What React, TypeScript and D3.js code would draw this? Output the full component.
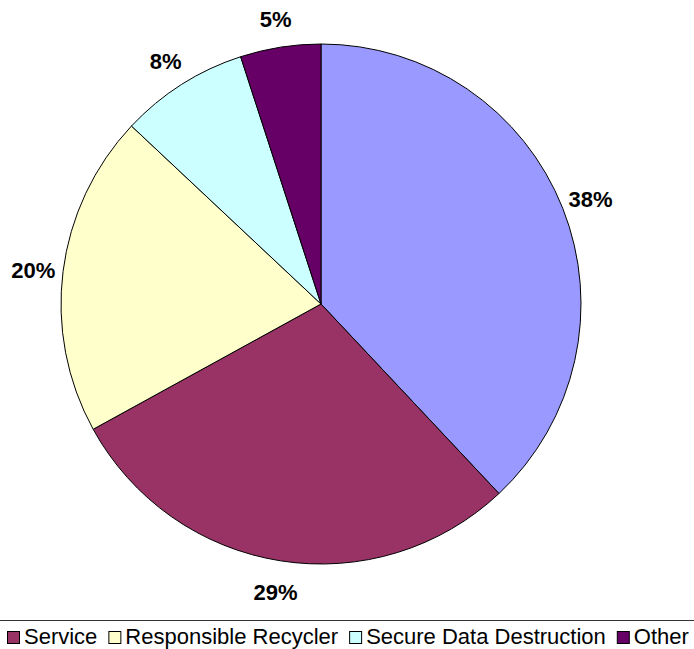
import React, { useEffect, useRef } from "react";
import * as d3 from "d3";

const categories = ["Hidden", "Service", "Responsible Recycler", "Secure Data Destruction", "Other"];
const values = [38, 29, 20, 8, 5];
const colors = ["#9999FF", "#993366", "#FFFFCC", "#CCFFFF", "#660066"];
const legendCategories = ["Service", "Responsible Recycler", "Secure Data Destruction", "Other"];

const W = 694;
const H = 649;

export default function App() {
  const ref = useRef<SVGSVGElement>(null);
  useEffect(() => {
    const svg = d3.select(ref.current);
    svg.selectAll("*").remove();
    const cx = 321, cy = 304, r = 260;
    const data = values.map((v, i) => ({ v, i }));
    const pie = d3.pie<any>().sort(null).value((d) => d.v);
    const arcs = pie(data);
    const arc = d3.arc<any>().innerRadius(0).outerRadius(r);
    const labelArc = d3.arc<any>().innerRadius(290).outerRadius(290);
    const g = svg.append("g").attr("transform", `translate(${cx},${cy})`);
    g.selectAll("path")
      .data(arcs)
      .enter()
      .append("path")
      .attr("d", arc)
      .attr("fill", (d) => colors[d.data.i])
      .attr("stroke", "#000")
      .attr("stroke-width", 1);
    g.selectAll("text")
      .data(arcs)
      .enter()
      .append("text")
      .attr("transform", (d) => `translate(${labelArc.centroid(d)})`)
      .attr("text-anchor", "middle")
      .attr("dy", "0.45em")
      .attr("font-family", "'Liberation Sans', Arial, sans-serif")
      .attr("font-weight", "bold")
      .attr("font-size", 22)
      .attr("fill", "#000")
      .text((d) => `${d.data.v}%`);

    svg.append("line")
      .attr("x1", 0).attr("x2", W).attr("y1", 620.5).attr("y2", 620.5)
      .attr("stroke", "#333").attr("stroke-width", 1);

    const lg = svg.append("g");
    let x = 7;
    legendCategories.forEach((name) => {
      const idx = categories.indexOf(name);
      lg.append("rect")
        .attr("x", x + 0.5).attr("y", 631.5).attr("width", 12).attr("height", 12)
        .attr("fill", colors[idx]).attr("stroke", "#000").attr("stroke-width", 1);
      const t = lg.append("text")
        .attr("x", x + 17).attr("y", 644)
        .attr("font-family", "'Liberation Sans', Arial, sans-serif")
        .attr("font-size", 22)
        .attr("fill", "#000")
        .text(name);
      const w = (t.node() as SVGTextElement).getComputedTextLength();
      x = x + 17 + w + 11;
    });
  }, []);
  return (
    <svg
      ref={ref}
      width={W}
      height={H}
      style={{ position: "absolute", left: 0, top: 0, background: "#fff", display: "block" }}
    />
  );
}
